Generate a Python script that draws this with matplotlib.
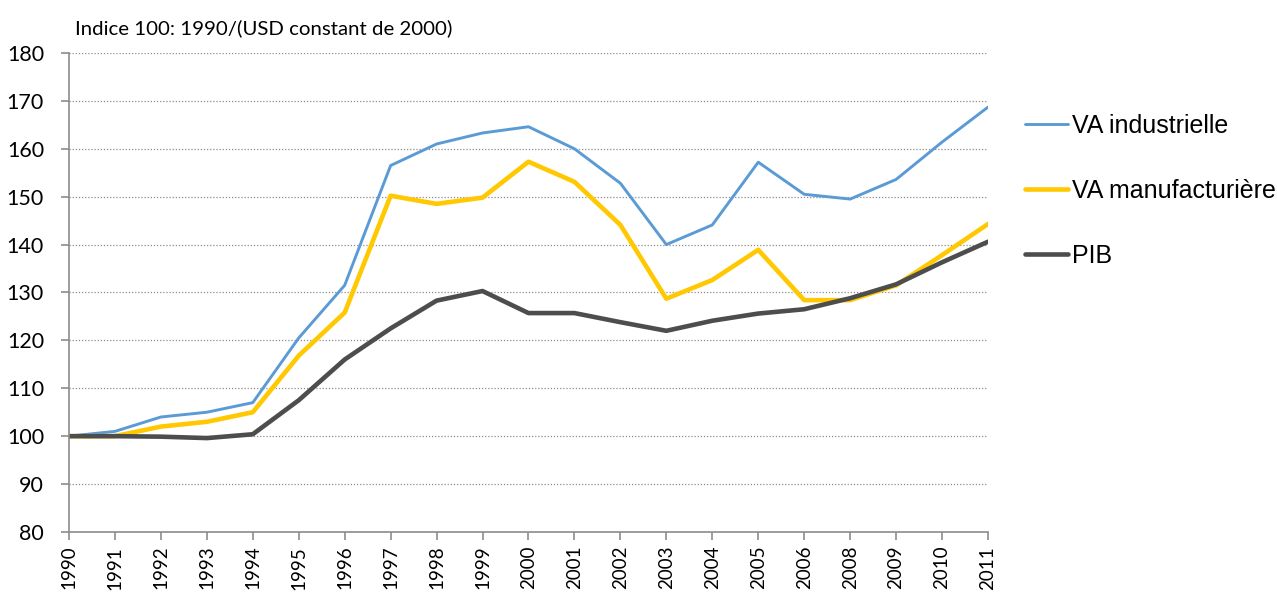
import matplotlib
matplotlib.use("Agg")
import matplotlib.pyplot as plt

years = ["1990", "1991", "1992", "1993", "1994", "1995", "1996", "1997", "1998", "1999",
         "2000", "2001", "2002", "2003", "2004", "2005", "2006", "2008", "2009", "2010", "2011"]

va_ind = [100, 101, 104, 105, 107, 120.5, 131.5, 156.5, 161, 163.3,
          164.6, 160, 152.8, 140, 144.1, 157.2, 150.5, 149.5, 153.6, 161.4, 168.7]
va_manu = [100, 100, 102, 103, 105, 116.8, 125.8, 150.2, 148.5, 149.8,
           157.3, 153.1, 144.1, 128.7, 132.6, 138.9, 128.4, 128.4, 131.5, 137.8, 144.3]
pib = [100, 100, 99.9, 99.6, 100.4, 107.5, 116, 122.5, 128.3, 130.3,
       125.7, 125.7, 123.8, 122, 124.1, 125.6, 126.5, 128.8, 131.7, 136.3, 140.6]

labels = ["VA industrielle", "VA manufacturière", "PIB"]
colors = ["#5b9bd5", "#ffc800", "#4d4d4d"]

fig = plt.figure(figsize=(12.77, 5.92), dpi=100)
ax = fig.add_axes([0.054, 0.1014, 0.7197, 0.8091])

x = list(range(len(years)))
ax.plot(x, va_ind, color=colors[0], lw=2.1, label=labels[0], solid_capstyle="round")
ax.plot(x, va_manu, color=colors[1], lw=3.3, label=labels[1], solid_capstyle="round")
ax.plot(x, pib, color=colors[2], lw=3.3, label=labels[2], solid_capstyle="round")

ax.set_xlim(0, len(years) - 1)
ax.set_ylim(80, 180)
ax.set_yticks(range(80, 181, 10))
ax.set_xticks(x)
ax.set_xticklabels(years, rotation=90)

for t in ax.get_yticklabels():
    t.set_fontfamily("Lato")
    t.set_fontsize(15.5)
for t in ax.get_xticklabels():
    t.set_fontfamily("Lato")
    t.set_fontsize(13.5)

ax.grid(axis="y", color="#8c8c8c", linestyle=(0, (1, 1.5)), lw=0.9)
ax.set_axisbelow(True)
for s in ["top", "right"]:
    ax.spines[s].set_visible(False)
for s in ["left", "bottom"]:
    ax.spines[s].set_color("#8c8c8c")
    ax.spines[s].set_linewidth(1.2)
ax.tick_params(axis="both", direction="out", length=6, color="#8c8c8c", width=1.2)
ax.tick_params(axis="y", pad=12)
ax.tick_params(axis="x", pad=4)

fig.text(0.0587, 0.953, "Indice 100: 1990/(USD constant de 2000)", family="Lato", fontsize=14.7,
         va="center", ha="left")

fig.legend(loc="upper left", bbox_to_anchor=(0.803, 0.808), frameon=False,
           prop=dict(family="Liberation Sans", size=18), handlelength=1.72,
           handletextpad=0.16, labelspacing=1.65, borderpad=0, borderaxespad=0)

fig.savefig("out.png", dpi=100)
